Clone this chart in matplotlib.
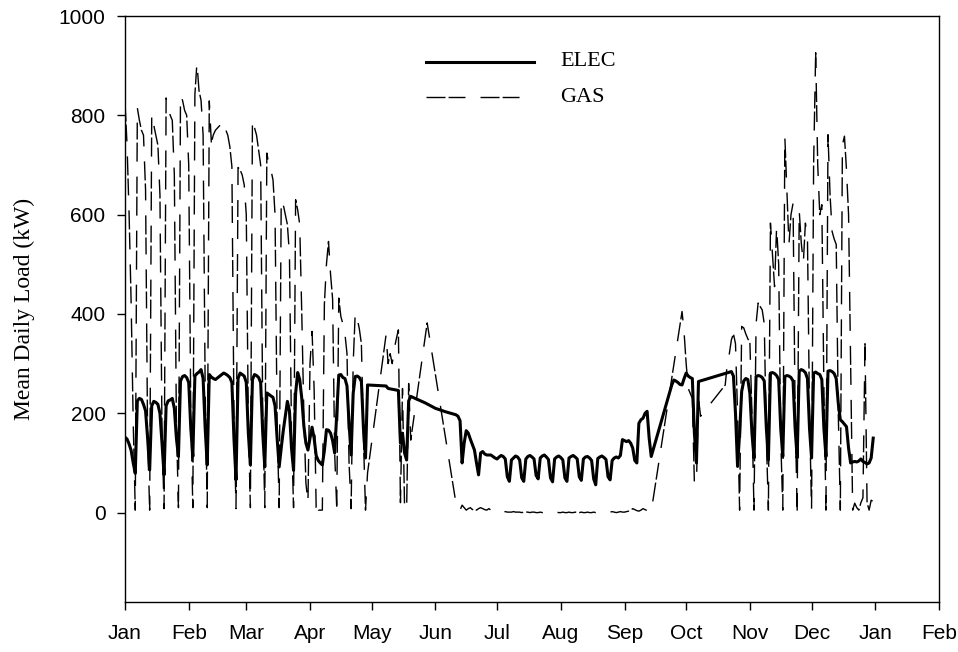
import matplotlib
matplotlib.use('Agg')
import matplotlib.pyplot as plt
from matplotlib.lines import Line2D

# ---- axis categories ----
month_labels = ['Jan', 'Feb', 'Mar', 'Apr', 'May', 'Jun', 'Jul', 'Aug', 'Sep',
                'Oct', 'Nov', 'Dec', 'Jan', 'Feb']
month_start_day = [0, 31, 59, 90, 120, 151, 181, 212, 243, 273, 304, 334, 365, 396]
y_ticks = [0, 200, 400, 600, 800, 1000]

N = None
# ---- daily ELEC (kW), day 0 = 1 Jan; None = missing day ----
elec = [
    152, 148, 138, 125, 100, 79,
    225, 230, 228, 218, 205, 150, 86,
    215, 224, 222, 218, 200, 140, 76,
    215, 225, 227, 230, 210, 150, 113,
    265, 274, 276, 272, 262, 170, 113,
    275, 280, 283, 288, 270, 170, 96,
    278, 273, 270, 268, N, N, N,
    281, 279, 276, 272, 262, 150, 66,
    270, 281, 278, 275, 262, 160, 96,
    268, 278, 276, 272, 262, 160, 92,
    241, 238, 235, 232, 215, 150, 92,
    130, 165, 195, 224, 205, 130, 85,
    240, 282, 268, 230, 175, 140, 126,
    150, 172, 150, 115, 105, 100, 96,
    125, 167, 166, 160, 145, 120, 200,
    277, 278, 272, 270, 255, 180, 116,
    240, 274, 275, 272, 264, 170, 110,
    257, N, N, N, N, N, N,
    N, N, 255, 250, N, N, N,
    N, 246, 140, 160, 120, 106, 225,
    234, N, N, N, N, N, N,
    221, N, N, N, N, 210, N,
    N, N, N, 203, N, N, N,
    N, 197, 194, 185, 100, 140, 165,
    160, 148, 137, 126, 100, 76, 120,
    123, 118, 116, 116, 116, 113, 110,
    108, 112, 115, 113, 108, 72, 63,
    106, 110, 114, 112, 106, 70, 63,
    108, 113, 115, 112, 108, 75, 68,
    110, 114, 116, 112, 107, 70, 62,
    108, 112, 114, 111, 106, 70, 63,
    110, 113, 115, 112, 108, 72, 65,
    108, 112, 113, 110, 105, 68, 56,
    109, 112, 114, 111, 107, 72, 66,
    105, 110, 112, 110, 115, 147, 145,
    143, 145, 140, 130, 105, 100, 180,
    187, 190, 200, 204, 150, 113, N,
    N, N, N, N, N, N, N,
    N, 257, 267, 265, 262, 258, 257,
    270, 281, 275, 272, 270, 160, 100,
    264, N, N, N, N, N, N,
    N, N, N, N, N, N, N,
    N, N, 284, 275, 200, 93, 160,
    244, 265, 270, 268, 240, 160, 110,
    274, 276, 275, 272, 265, 170, 106,
    281, 282, 280, 276, 268, 170, 113,
    274, 276, 275, 272, 265, 170, 110,
    285, 288, 286, 282, 270, 170, 110,
    281, 283, 280, 278, 268, 170, 113,
    285, 286, 284, 280, 270, 220, 187,
    183, 178, 173, 130, 100, 102, 103,
    102, 104, 108, 103, 101, 98, 100,
    110, 150,
]

# ---- daily GAS (kW) ----
gas = [
    826, 740, 600, 420, 180, 5,
    815, 790, 770, 760, 650, 150, 5,
    802, 780, 760, 740, 640, 160, 8,
    835, 818, 800, 790, 680, 180, 10,
    840, 830, 810, 800, 700, 200, 10,
    842, 906, 850, 830, 760, 250, 10,
    829, 745, 761, 770, N, N, N,
    788, 771, 760, 737, 697, 200, 8,
    695, 690, 680, 660, 600, 180, 10,
    792, 775, 760, 730, 700, 200, 10,
    724, 700, 690, 670, 600, 180, 10,
    630, 620, 600, 580, 520, 160, 10,
    630, 610, 580, 400, 200, 60, 20,
    300, 365, 250, 10, 5, 5, 5,
    420, 500, 546, 480, 430, 120, 10,
    432, 395, 380, 360, 320, 100, 8,
    300, 402, 390, 370, 340, 150, 5,
    80, N, N, N, N, N, N,
    N, N, 358, 300, 320, 300, 330,
    350, 368, 20, 250, 10, 5, 260,
    146, N, N, N, N, N, N,
    N, 382, N, N, N, N, N,
    N, N, N, N, N, N, N,
    N, 19, 10, 5, 15, 10, 5,
    8, 10, 6, 8, 5, 8, 10,
    8, 6, 5, 8, 5, 4, 6,
    3, 2, 2, 1, 2, 1, 1,
    1, 2, 1, 1, 1, 0, 1,
    1, 1, 0, 1, 1, 0, 0,
    1, 0, 1, 0, 0, 1, 0,
    0, 1, 0, 0, 1, 0, 0,
    1, 0, 0, 1, 0, 0, 1,
    0, 0, 1, 0, 0, 1, 0,
    1, 0, 0, 1, 0, 0, 1,
    2, 1, 0, 1, 2, 1, 1,
    2, 3, 5, 8, 6, 4, 3,
    5, 8, 6, 4, 3, 2, N,
    N, N, N, N, N, N, N,
    N, N, N, N, N, N, 405,
    362, 300, 250, 240, 230, 59, 60,
    230, 194, N, N, N, N, N,
    N, N, N, N, N, N, 257,
    300, 320, 348, 360, 340, 200, 5,
    375, 372, 360, 350, 342, 200, 5,
    380, 422, 415, 408, 380, 150, 5,
    583, 520, 455, 576, 500, 150, 5,
    757, 650, 540, 600, 623, 200, 5,
    608, 543, 503, 583, 556, 200, 5,
    700, 926, 700, 600, 620, 250, 5,
    761, 640, 566, 551, 540, 200, 5,
    740, 758, 690, 600, 300, 5, 19,
    10, 5, 20, 30, 340, 20, 5,
    25, 22,
]

series_names = ['ELEC', 'GAS']

W, H = 958, 652
fig = plt.figure(figsize=(W / 100, H / 100), dpi=100)
ax = fig.add_axes([125 / W, 1 - 602 / H, (939 - 125) / W, (602 - 16) / H])

ex = [d for d, v in enumerate(elec) if v is not None]
ev = [v for v in elec if v is not None]
gx = [d for d, v in enumerate(gas) if v is not None]
gv = [v for v in gas if v is not None]

gas_dash = (13.7, 2.2, 12.2, 10.8)
ax.plot(gx, gv, color='black', lw=1.0, dashes=gas_dash)
ax.plot(ex, ev, color='black', lw=2.2, solid_joinstyle='round')

ax.set_xlim(month_start_day[0], month_start_day[-1])
ax.set_ylim(-180, 1000)
ax.set_xticks(month_start_day)
ax.set_xticklabels(month_labels)
ax.set_yticks(y_ticks)
ax.set_yticklabels([str(t) for t in y_ticks])
for lab in ax.get_xticklabels() + ax.get_yticklabels():
    lab.set_fontfamily('Liberation Sans')
    lab.set_fontsize(15)
ax.tick_params(axis='both', direction='out', length=6, width=1.0, pad=8)
ax.tick_params(axis='x', pad=10)
for s in ax.spines.values():
    s.set_linewidth(1.0)

fig.text(24 / W, 1 - 309 / H, 'Mean Daily Load (kW)', rotation=90,
         ha='center', va='center', family='Liberation Serif', size=17)

# legend keys
fig.add_artist(Line2D([426 / W, 534 / W], [1 - 62 / H] * 2, color='black', lw=2.2,
                      transform=fig.transFigure))
fig.add_artist(Line2D([426 / W, 534 / W], [1 - 97 / H] * 2, color='black', lw=1.0,
                      dashes=gas_dash, transform=fig.transFigure))
fig.text(560 / W, 1 - 62 / H, series_names[0], ha='left', va='center',
         family='Liberation Serif', size=16)
fig.text(560 / W, 1 - 97 / H, series_names[1], ha='left', va='center',
         family='Liberation Serif', size=16)

fig.savefig('out.png', dpi=100)
